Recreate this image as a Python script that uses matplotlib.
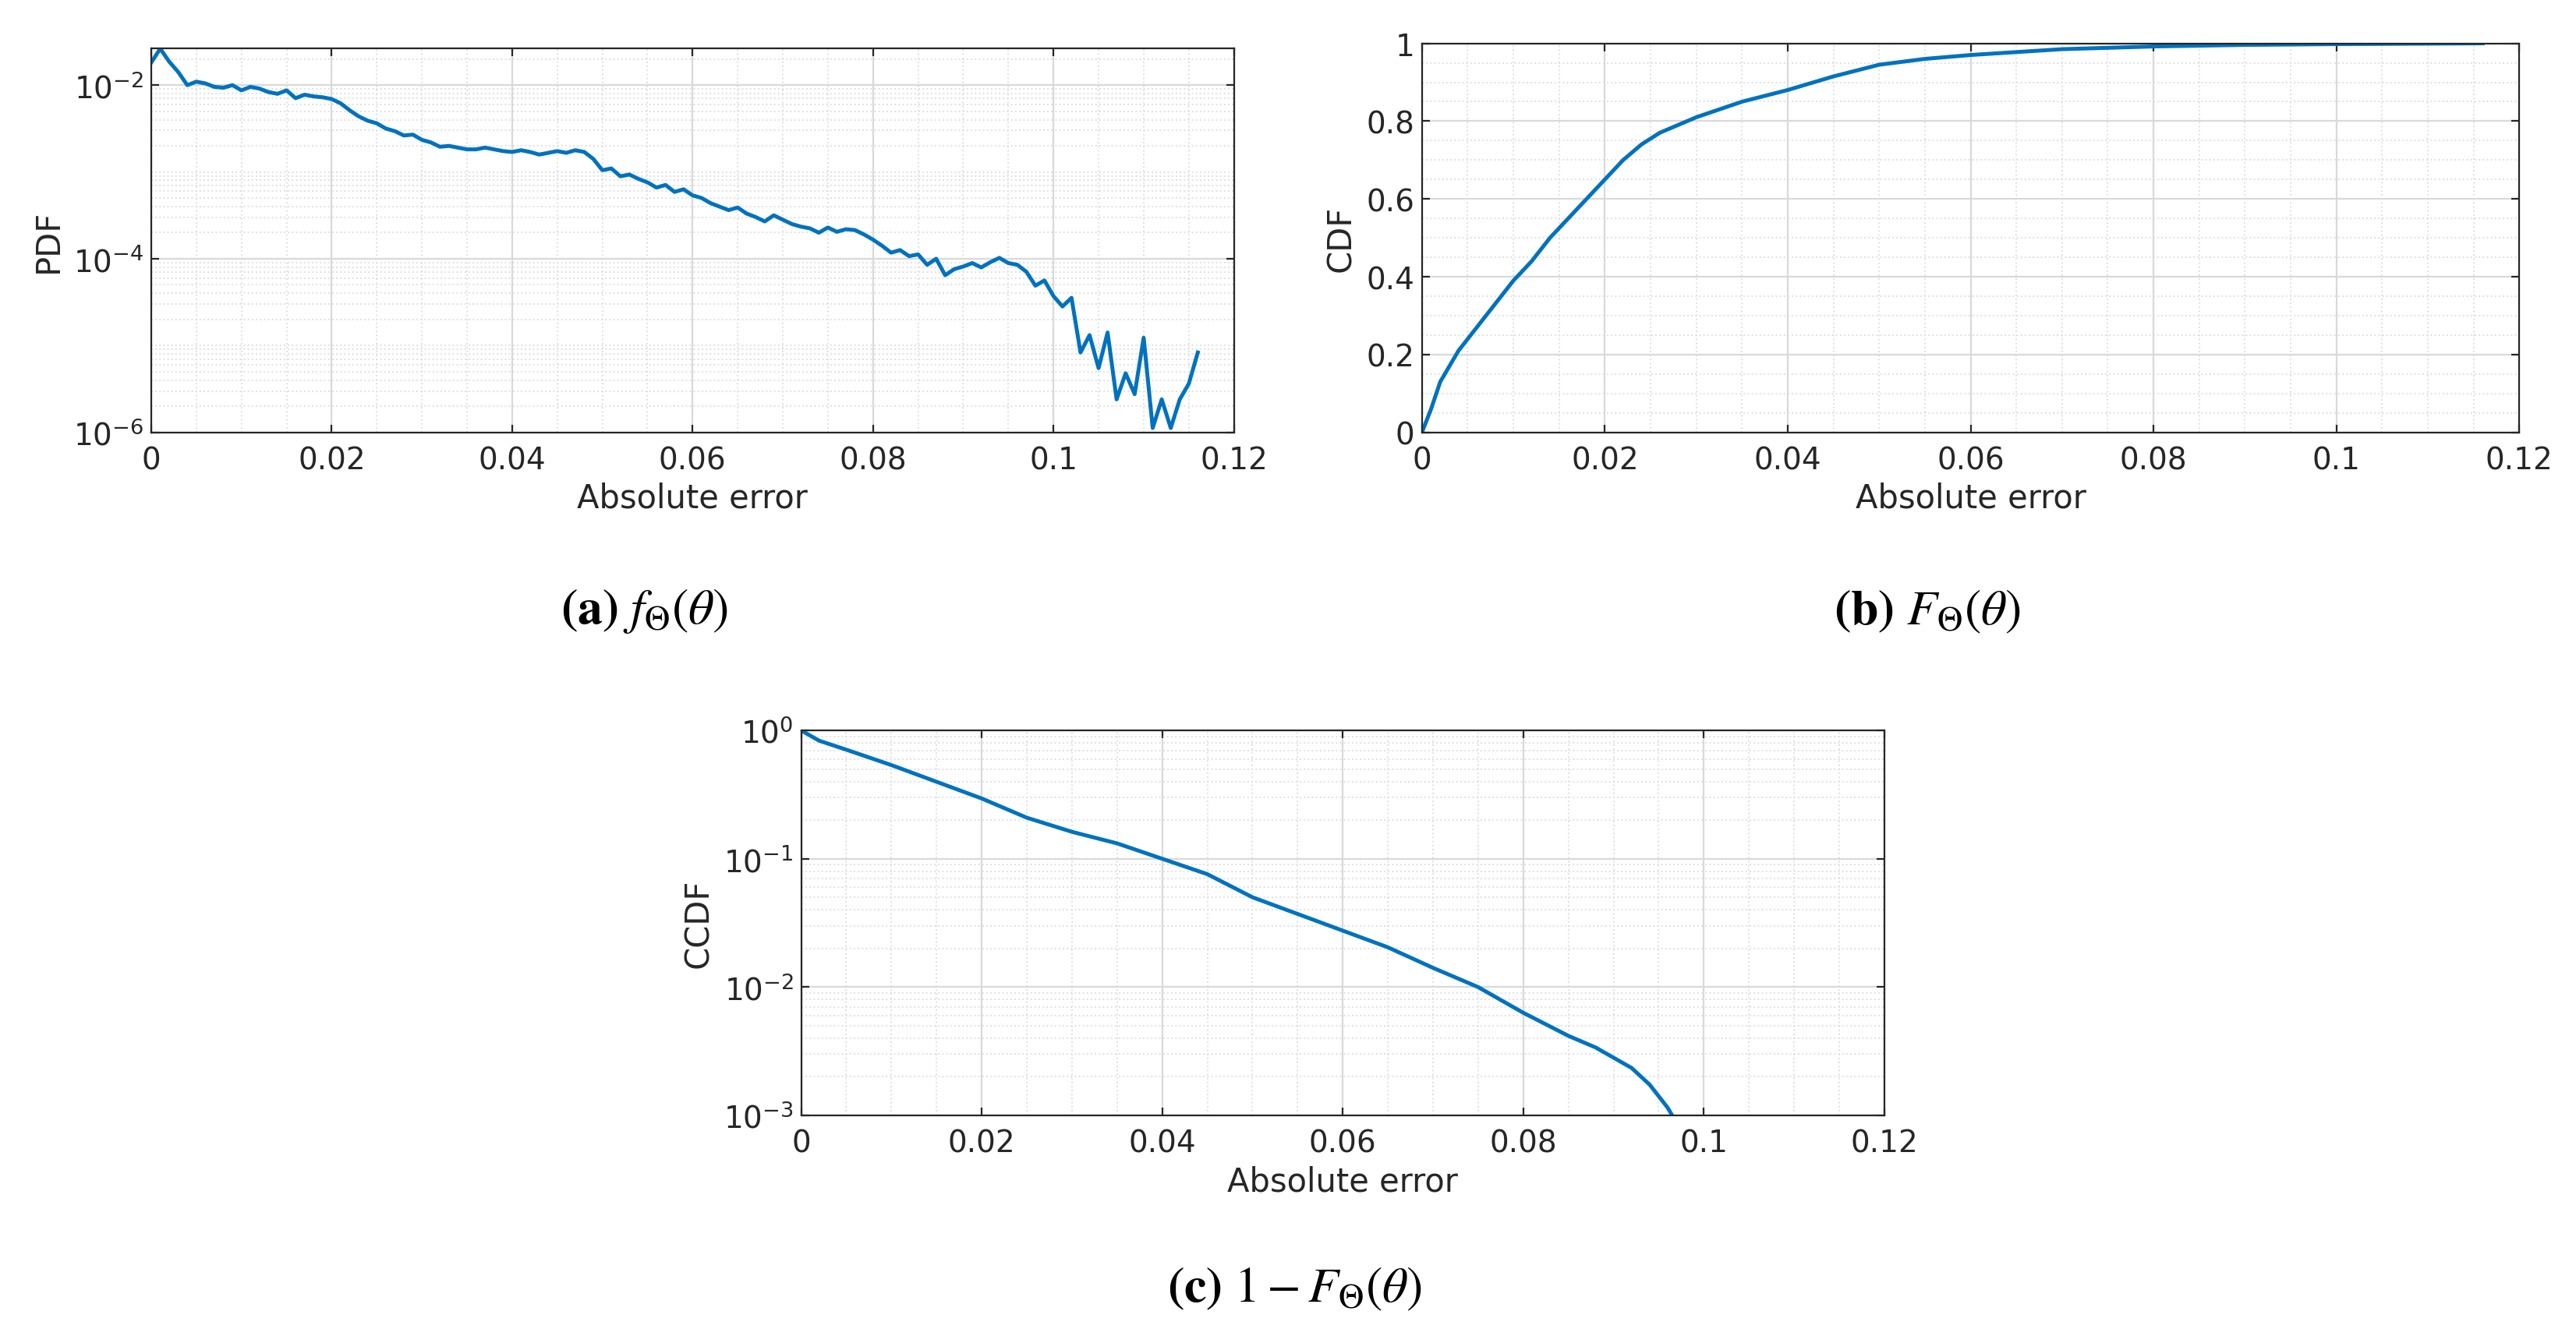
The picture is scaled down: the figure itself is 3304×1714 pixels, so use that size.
import numpy as np
import matplotlib
matplotlib.use("Agg")
import matplotlib.pyplot as plt
from matplotlib.ticker import MultipleLocator, LogLocator, FixedLocator, NullFormatter, FixedFormatter

plt.rcParams['mathtext.fontset'] = 'stix'
plt.rcParams['font.family'] = ['DejaVu Sans']

pdf_x = [0, 0.001, 0.002, 0.003, 0.004, 0.005, 0.006, 0.007, 0.008, 0.009, 0.010, 0.011, 0.012, 0.013, 0.014, 0.015,
         0.016, 0.017, 0.018, 0.019, 0.020, 0.021, 0.022, 0.023, 0.024, 0.025, 0.026, 0.027, 0.028, 0.029, 0.030,
         0.031, 0.032, 0.033, 0.034, 0.035, 0.036, 0.037, 0.038, 0.039, 0.040, 0.041, 0.042, 0.043, 0.044, 0.045,
         0.046, 0.047, 0.048, 0.049, 0.050, 0.051, 0.052, 0.053, 0.054, 0.055, 0.056, 0.057, 0.058, 0.059, 0.060,
         0.061, 0.062, 0.063, 0.064, 0.065, 0.066, 0.067, 0.068, 0.069, 0.070, 0.071, 0.072, 0.073, 0.074, 0.075,
         0.076, 0.077, 0.078, 0.079, 0.080, 0.081, 0.082, 0.083, 0.084, 0.085, 0.086, 0.087, 0.088, 0.089, 0.090,
         0.091, 0.092, 0.093, 0.094, 0.095, 0.096, 0.097, 0.098, 0.099, 0.100, 0.101, 0.102, 0.103, 0.104, 0.105,
         0.106, 0.107, 0.108, 0.109, 0.110, 0.111, 0.112, 0.113, 0.114, 0.115, 0.116]
pdf_log = [-1.74, -1.58, -1.73, -1.85, -2.00, -1.96, -1.98, -2.02, -2.03, -2.00, -2.06, -2.02, -2.04, -2.08, -2.10,
           -2.06, -2.15, -2.11, -2.13, -2.14, -2.16, -2.21, -2.29, -2.36, -2.41, -2.44, -2.50, -2.53, -2.58, -2.57,
           -2.63, -2.66, -2.71, -2.70, -2.72, -2.74, -2.74, -2.72, -2.74, -2.76, -2.77, -2.75, -2.77, -2.80, -2.78,
           -2.76, -2.78, -2.75, -2.77, -2.85, -2.98, -2.96, -3.05, -3.03, -3.08, -3.12, -3.18, -3.15, -3.23, -3.20,
           -3.27, -3.30, -3.36, -3.40, -3.44, -3.41, -3.48, -3.52, -3.57, -3.50, -3.55, -3.60, -3.63, -3.65, -3.70,
           -3.64, -3.69, -3.66, -3.67, -3.72, -3.78, -3.85, -3.93, -3.90, -3.97, -3.95, -4.07, -4.00, -4.19, -4.12,
           -4.09, -4.05, -4.10, -4.04, -3.99, -4.05, -4.07, -4.15, -4.31, -4.25, -4.43, -4.55, -4.45, -5.08, -4.88,
           -5.26, -4.85, -5.62, -5.32, -5.56, -4.91, -5.95, -5.62, -5.95, -5.62, -5.44, -5.08]

cdf_x = [0, 0.001, 0.002, 0.004, 0.006, 0.008, 0.010, 0.012, 0.014, 0.016, 0.018, 0.020, 0.022, 0.024, 0.026,
         0.028, 0.030, 0.035, 0.040, 0.045, 0.050, 0.055, 0.060, 0.070, 0.080, 0.090, 0.100, 0.116]
cdf_y = [0, 0.06, 0.13, 0.21, 0.27, 0.33, 0.39, 0.44, 0.50, 0.55, 0.60, 0.65, 0.70, 0.74, 0.77,
         0.79, 0.81, 0.85, 0.88, 0.915, 0.945, 0.96, 0.97, 0.985, 0.992, 0.996, 0.998, 1.0]

ccdf_x = [0, 0.002, 0.005, 0.010, 0.015, 0.020, 0.025, 0.030, 0.035, 0.040, 0.045, 0.050, 0.055, 0.060,
          0.065, 0.070, 0.075, 0.080, 0.085, 0.088, 0.090, 0.092, 0.094, 0.096, 0.0965]
ccdf_log = [0, -0.08, -0.15, -0.27, -0.40, -0.53, -0.68, -0.79, -0.88, -1.00, -1.12, -1.30, -1.43, -1.56,
            -1.69, -1.85, -2.00, -2.20, -2.38, -2.47, -2.55, -2.63, -2.76, -2.94, -3.0]

x_ticks = [0, 0.02, 0.04, 0.06, 0.08, 0.10, 0.12]
x_tick_labels = ['0', '0.02', '0.04', '0.06', '0.08', '0.1', '0.12']
cdf_ticks = [0, 0.2, 0.4, 0.6, 0.8, 1.0]
cdf_tick_labels = ['0', '0.2', '0.4', '0.6', '0.8', '1']

C = '#0072BD'
TC = '#262626'
fig = plt.figure(figsize=(16.52, 8.575), dpi=200)
axa = fig.add_axes([0.0587, 0.676, 0.4203, 0.287])
axb = fig.add_axes([0.552, 0.676, 0.426, 0.291])
axc = fig.add_axes([0.311, 0.165, 0.4205, 0.288])

def style(ax):
    ax.set_xlim(0, 0.12)
    ax.xaxis.set_major_locator(FixedLocator(x_ticks))
    ax.xaxis.set_major_formatter(FixedFormatter(x_tick_labels))
    ax.xaxis.set_minor_locator(MultipleLocator(0.005))
    ax.tick_params(which='both', direction='in', top=True, right=True, labelsize=14, colors=TC)
    ax.tick_params(which='minor', length=0)
    ax.tick_params(axis='x', pad=6)
    ax.grid(True, which='major', color='#d9d9d9', lw=0.8)
    ax.grid(True, which='minor', color='#e0e0e0', lw=0.7, ls=':')
    for s in ax.spines.values():
        s.set_color(TC); s.set_linewidth(0.8)
    ax.set_xlabel('Absolute error', fontsize=15, color=TC, labelpad=3)
    ax.set_axisbelow(True)

axa.plot(pdf_x, 10 ** np.array(pdf_log), color=C, lw=1.8)
axa.set_yscale('log')
axa.set_ylim(1e-6, 10 ** -1.58)
axa.yaxis.set_major_locator(FixedLocator([1e-6, 1e-4, 1e-2]))
axa.yaxis.set_minor_locator(LogLocator(base=10, subs=np.arange(1, 10)))
axa.yaxis.set_minor_formatter(NullFormatter())
style(axa)
axa.set_ylabel('PDF', fontsize=15, color=TC)

axb.plot(cdf_x, cdf_y, color=C, lw=1.8)
axb.set_ylim(0, 1)
axb.yaxis.set_major_locator(FixedLocator(cdf_ticks))
axb.yaxis.set_major_formatter(FixedFormatter(cdf_tick_labels))
axb.yaxis.set_minor_locator(MultipleLocator(0.05))
style(axb)
axb.set_ylabel('CDF', fontsize=15, color=TC)

axc.plot(ccdf_x, 10 ** np.array(ccdf_log), color=C, lw=1.8)
axc.set_yscale('log')
axc.set_ylim(1e-3, 1)
axc.yaxis.set_major_locator(FixedLocator([1e-3, 1e-2, 1e-1, 1]))
axc.yaxis.set_minor_locator(LogLocator(base=10, subs=np.arange(1, 10)))
axc.yaxis.set_minor_formatter(NullFormatter())
style(axc)
axc.set_ylabel('CCDF', fontsize=15, color=TC)

fig.text(0.25, 0.543, r'$\mathbf{(a)}\ f_{\Theta}(\theta)$', fontsize=23, ha='center', va='center')
fig.text(0.748, 0.543, r'$\mathbf{(b)}\ F_{\Theta}(\theta)$', fontsize=23, ha='center', va='center')
fig.text(0.5025, 0.036, r'$\mathbf{(c)}\ 1 - F_{\Theta}(\theta)$', fontsize=23, ha='center', va='center')

fig.savefig('out.png', dpi=200)
